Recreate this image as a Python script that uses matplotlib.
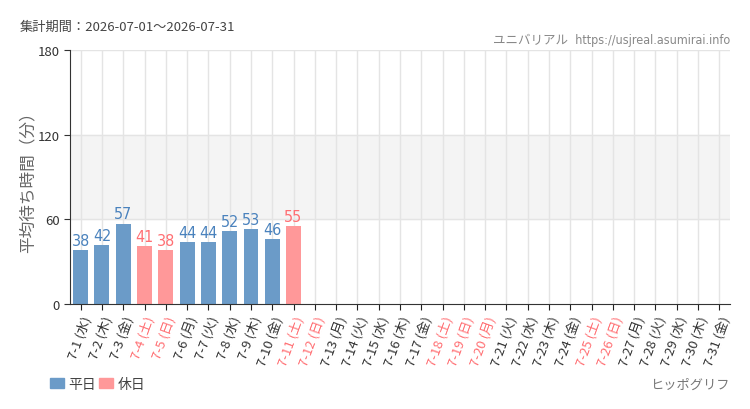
import matplotlib.pyplot as plt
from matplotlib.patches import Patch

plt.rcParams['font.family'] = ['Noto Sans CJK JP', 'DejaVu Sans']

# data
days = list(range(1, 32))
weekdays = ['水', '木', '金', '土', '日', '月', '火'] * 5
weekdays = weekdays[:31]
holidays = [4, 5, 11, 12, 18, 19, 20, 25, 26]
wait_values = [38, 42, 57, 41, 38, 44, 44, 52, 53, 46, 55]

blue = '#6b9bc8'
pink = '#ff9899'
blue_txt = '#4a82bd'
pink_txt = '#ff6f73'

fig = plt.figure(figsize=(7.5, 4.1), dpi=100)
ax = fig.add_axes([70 / 750, 1 - 305 / 410, 660 / 750, 254 / 410])

ax.axhspan(60, 120, color='#f4f4f4', zorder=0)
for y in (60, 120, 180):
    ax.axhline(y, color='#e4e4e4', lw=1, zorder=0.5)
for i in range(len(days)):
    ax.axvline(i, color='#e4e4e4', lw=1, zorder=0.5)

for i, v in enumerate(wait_values):
    hol = days[i] in holidays
    ax.bar(i, v, width=0.7, color=pink if hol else blue, zorder=2)
    ax.text(i, v + 1.5, str(v), ha='center', va='bottom',
            color=pink_txt if hol else blue_txt, fontsize=11.5,
            family='DejaVu Sans', fontstretch='condensed')

ax.set_xlim(-0.5, len(days) - 0.5)
ax.set_ylim(0, 180)
ax.set_yticks([0, 60, 120, 180])
ax.tick_params(axis='y', labelsize=9.5, colors='#333333', length=4)
ax.set_xticks(range(len(days)))
labels = [f'7-{d} ({w})' for d, w in zip(days, weekdays)]
ax.set_xticklabels(labels, rotation=70, ha='right', rotation_mode='anchor',
                   fontsize=9.5)
ax.tick_params(axis='x', length=4, color='#222222', pad=3)
for lab, d in zip(ax.get_xticklabels(), days):
    lab.set_color(pink_txt if d in holidays else '#333333')

for s in ('top', 'right'):
    ax.spines[s].set_visible(False)
ax.spines['left'].set_color('#333333')
ax.spines['bottom'].set_color('#333333')

ax.set_ylabel('平均待ち時間（分）', fontsize=12, color='#666666', labelpad=1)

fig.text(20 / 750, 1 - 27 / 410, '集計期間：2026-07-01～2026-07-31',
         fontsize=9.5, color='#444444', va='center')
fig.text(730 / 750, 1 - 40 / 410, 'ユニバリアル  https://usjreal.asumirai.info',
         fontsize=9, color='#888888', va='center', ha='right',
         family=['DejaVu Sans', 'Noto Sans CJK JP'], fontstretch='condensed')
fig.text(730 / 750, 1 - 385 / 410, 'ヒッポグリフ', fontsize=9.5,
         color='#777777', va='center', ha='right')

handles = [Patch(color=blue, label='平日'), Patch(color=pink, label='休日')]
fig.legend(handles=handles, loc='center left', bbox_to_anchor=(43 / 750, 1 - 385 / 410),
           ncol=2, frameon=False, fontsize=10, handlelength=1.0,
           handleheight=0.8, columnspacing=0.2, handletextpad=0.35,
           borderpad=0.0, labelcolor='#444444')

fig.savefig('out.png', dpi=100)
